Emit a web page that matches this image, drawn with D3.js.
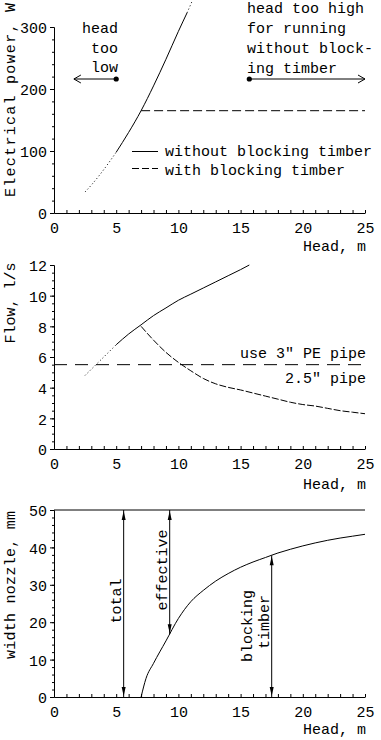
<!DOCTYPE html>
<html><head><meta charset="utf-8">
<script src="https://cdn.jsdelivr.net/npm/d3@7"></script>
<style>
html,body{margin:0;padding:0;background:#fff;}
svg{display:block;}
text{font-family:"Liberation Mono","DejaVu Sans Mono",monospace;font-size:15px;fill:#000;}
</style></head>
<body>
<script>
// ---------- data ----------
const headTicks = [0, 5, 10, 15, 20, 25];
const powerTicks = [0, 100, 200, 300];
const flowTicks = [0, 2, 4, 6, 8, 10, 12];
const widthTicks = [0, 10, 20, 30, 40, 50];

// power, W
const powerHead = [2.5, 3, 4, 5, 6, 7, 8, 9, 10, 10.7, 11.5];
const powerNoTimber = [34, 45, 70, 98, 130, 165, 205, 248, 293, 323, 360];
const powerTimberHead = [7, 25];
const powerTimber = [165, 165];

// flow, l/s
const flowHead = [2.5, 3, 4, 5, 6, 7, 8, 9, 10, 11, 12, 13, 14, 15, 15.7];
const flowNoTimber = [4.8, 5.2, 6.0, 6.8, 7.5, 8.1, 8.7, 9.2, 9.7, 10.1, 10.5, 10.9, 11.3, 11.7, 12.0];
const flowTimberHead = [7, 8, 9, 10, 11, 12, 13, 14, 15, 16, 17, 18, 19, 20, 21, 22, 23, 24, 25];
const flowTimber = [8.0, 7.1, 6.3, 5.65, 5.1, 4.6, 4.25, 4.02, 3.85, 3.65, 3.45, 3.25, 3.05, 2.9, 2.8, 2.65, 2.5, 2.4, 2.3];
const pipeLimit = 5.5;

// nozzle width, mm
const nozzleHead = [7, 7.4, 8, 9, 10, 11, 12, 13, 14, 15, 16, 17, 18, 19, 20, 21, 22, 23, 24, 25];
const nozzleEffective = [0, 5, 9, 15, 21, 25.5, 28.5, 31, 33, 34.7, 36.1, 37.3, 38.5, 39.5, 40.4, 41.2, 41.9, 42.5, 43, 43.5];
const nozzleTotal = 50;
const arrowHeads = [5.6, 9.3, 17.5]; // total, effective, blocking timber

// thresholds
const headTooLow = 5, headTooHigh = 15.7, solidEnd = 10.7;

// ---------- layout ----------
const W = 381, H = 740;
const svg = d3.select("body").append("svg").attr("width", W).attr("height", H);
const x = d3.scaleLinear().domain([0, 25]).range([54, 365]);
const yP = d3.scaleLinear().domain([0, 300]).range([213, 27]);
const yF = d3.scaleLinear().domain([0, 12]).range([449, 265]);
const yN = d3.scaleLinear().domain([0, 50]).range([697, 510]);

function axes(y, majors, minorStep, title, titleY, titleOff, titleLen) {
  const y0 = y.range()[0];
  const gx = svg.append("g").attr("transform", `translate(0,${y0})`)
    .call(d3.axisBottom(x).tickValues(d3.range(0, 26, 1)).tickSizeInner(-3).tickSizeOuter(0)
      .tickFormat(d => headTicks.includes(d) ? d : ""));
  gx.selectAll("text").attr("y", 20).attr("dy", null);
  svg.append("text").attr("x", 366).attr("y", y0 + titleOff).attr("text-anchor", "end").text("Head, m");
  const dom = y.domain();
  svg.append("g").attr("transform", "translate(54,0)")
    .call(d3.axisLeft(y).tickValues(d3.range(dom[0], dom[1] + 1e-9, minorStep)).tickSizeInner(2).tickSizeOuter(0).tickFormat(""));
  const gy = svg.append("g").attr("transform", "translate(54,0)")
    .call(d3.axisLeft(y).tickValues(majors).tickSizeInner(4).tickSizeOuter(0).tickPadding(3));
  gy.selectAll("text").attr("dy", "0.38em");
  svg.selectAll(".domain").attr("stroke", "#000");
  svg.selectAll(".tick line").attr("stroke", "#000");
  svg.selectAll(".tick text").attr("font-size", 15).attr("font-family", null);
  const t = svg.append("text").attr("transform", `translate(15,${titleY}) rotate(-90)`).attr("text-anchor", "middle").text(title);
  if (titleLen) t.attr("textLength", titleLen).attr("lengthAdjust", "spacing");
}

axes(yP, powerTicks, 20, "Electrical power, W", 100, 38, 194);
axes(yF, flowTicks, 0.5, "Flow, l/s", 303, 40, null);
axes(yN, widthTicks, 2, "width nozzle, mm", 585, 37, 148);
svg.selectAll("g").attr("font-family", null).attr("font-size", null);

function seg(xs, ys, y, filt, dash) {
  const pts = xs.map((h, i) => [h, ys[i]]).filter(filt);
  svg.append("path").datum(pts)
    .attr("d", d3.line().x(d => x(d[0])).y(d => y(d[1])).curve(d3.curveMonotoneX))
    .attr("fill", "none").attr("stroke", "#000").attr("stroke-width", 1)
    .attr("stroke-dasharray", dash);
}

// ---------- top chart ----------
seg(powerHead, powerNoTimber, yP, d => d[0] <= headTooLow, "1,2.5");
seg(powerHead, powerNoTimber, yP, d => d[0] >= headTooLow && d[0] <= solidEnd, null);
seg(powerHead, powerNoTimber, yP, d => d[0] >= solidEnd, "1,2.5");
seg(powerTimberHead, powerTimber, yP, d => true, "9,4");

// legend
svg.append("line").attr("x1", 132).attr("x2", 158).attr("y1", 151.5).attr("y2", 151.5).attr("stroke", "#000");
svg.append("text").attr("x", 165).attr("y", 156).text("without blocking timber");
svg.append("line").attr("x1", 132).attr("x2", 158).attr("y1", 168.5).attr("y2", 168.5).attr("stroke", "#000").attr("stroke-dasharray", "7,3");
svg.append("text").attr("x", 165).attr("y", 175).text("with blocking timber");

// annotations
const lowT = svg.append("text").attr("text-anchor", "end");
["head", "too", "low"].forEach((t, i) => lowT.append("tspan").attr("x", 118).attr("y", 33 + i * 19.5).text(t));
const highT = svg.append("text");
["head too high", "for running", "without block-", "ing timber"].forEach((t, i) => highT.append("tspan").attr("x", 247).attr("y", 13 + i * 20).text(t));
const annY = 79;
svg.append("line").attr("x1", x(headTooLow)).attr("x2", x(1.6)).attr("y1", annY).attr("y2", annY).attr("stroke", "#000");
svg.append("path").attr("d", `M${x(1.6) + 7},${annY - 4}L${x(1.6)},${annY}L${x(1.6) + 7},${annY + 4}`).attr("fill", "none").attr("stroke", "#000");
svg.append("circle").attr("cx", x(headTooLow)).attr("cy", annY).attr("r", 2.6).attr("fill", "#000");
svg.append("line").attr("x1", x(headTooHigh)).attr("x2", x(25)).attr("y1", annY).attr("y2", annY).attr("stroke", "#000");
svg.append("path").attr("d", `M${x(25) - 7},${annY - 4}L${x(25)},${annY}L${x(25) - 7},${annY + 4}`).attr("fill", "none").attr("stroke", "#000");
svg.append("circle").attr("cx", x(headTooHigh)).attr("cy", annY).attr("r", 2.6).attr("fill", "#000");

// ---------- middle chart ----------
svg.append("line").attr("x1", x(0)).attr("x2", x(25)).attr("y1", yF(pipeLimit)).attr("y2", yF(pipeLimit))
  .attr("stroke", "#000").attr("stroke-dasharray", "13,8");
seg(flowHead, flowNoTimber, yF, d => d[0] <= headTooLow, "1,2.5");
seg(flowHead, flowNoTimber, yF, d => d[0] >= headTooLow, null);
seg(flowTimberHead, flowTimber, yF, d => true, "7,2");
svg.append("text").attr("x", 366).attr("y", yF(pipeLimit) - 7).attr("text-anchor", "end").text("use 3″ PE pipe");
svg.append("text").attr("x", 366).attr("y", yF(pipeLimit) + 18).attr("text-anchor", "end").text("2.5″ pipe");

// ---------- bottom chart ----------
svg.append("line").attr("x1", x(0)).attr("x2", x(25)).attr("y1", yN(nozzleTotal)).attr("y2", yN(nozzleTotal)).attr("stroke", "#000");
seg(nozzleHead, nozzleEffective, yN, d => true, null);
const interp = d3.scaleLinear().domain(nozzleHead).range(nozzleEffective);
function darrow(h, v1, v2) {
  const X = x(h), Y1 = yN(v1), Y2 = yN(v2);
  svg.append("line").attr("x1", X).attr("x2", X).attr("y1", Y1).attr("y2", Y2).attr("stroke", "#000");
  svg.append("path").attr("d", `M${X},${Y1 + 1}L${X - 2},${Y1 + 10}L${X + 2},${Y1 + 10}Z`).attr("fill", "#000");
  svg.append("path").attr("d", `M${X},${Y2 - 1}L${X - 2},${Y2 - 10}L${X + 2},${Y2 - 10}Z`).attr("fill", "#000");
}
darrow(arrowHeads[0], nozzleTotal, 0);
darrow(arrowHeads[1], nozzleTotal, interp(arrowHeads[1]));
darrow(arrowHeads[2], interp(arrowHeads[2]), 0);
function vtext(xp, yc, t) {
  svg.append("text").attr("transform", `translate(${xp},${yc}) rotate(-90)`).attr("text-anchor", "middle").text(t);
}
vtext(x(arrowHeads[0]) - 3, 601, "total");
vtext(x(arrowHeads[1]) - 3, 570, "effective");
vtext(x(arrowHeads[2]) - 20, 626, "blocking");
vtext(x(arrowHeads[2]) - 3, 622, "timber");
</script>
</body></html>
